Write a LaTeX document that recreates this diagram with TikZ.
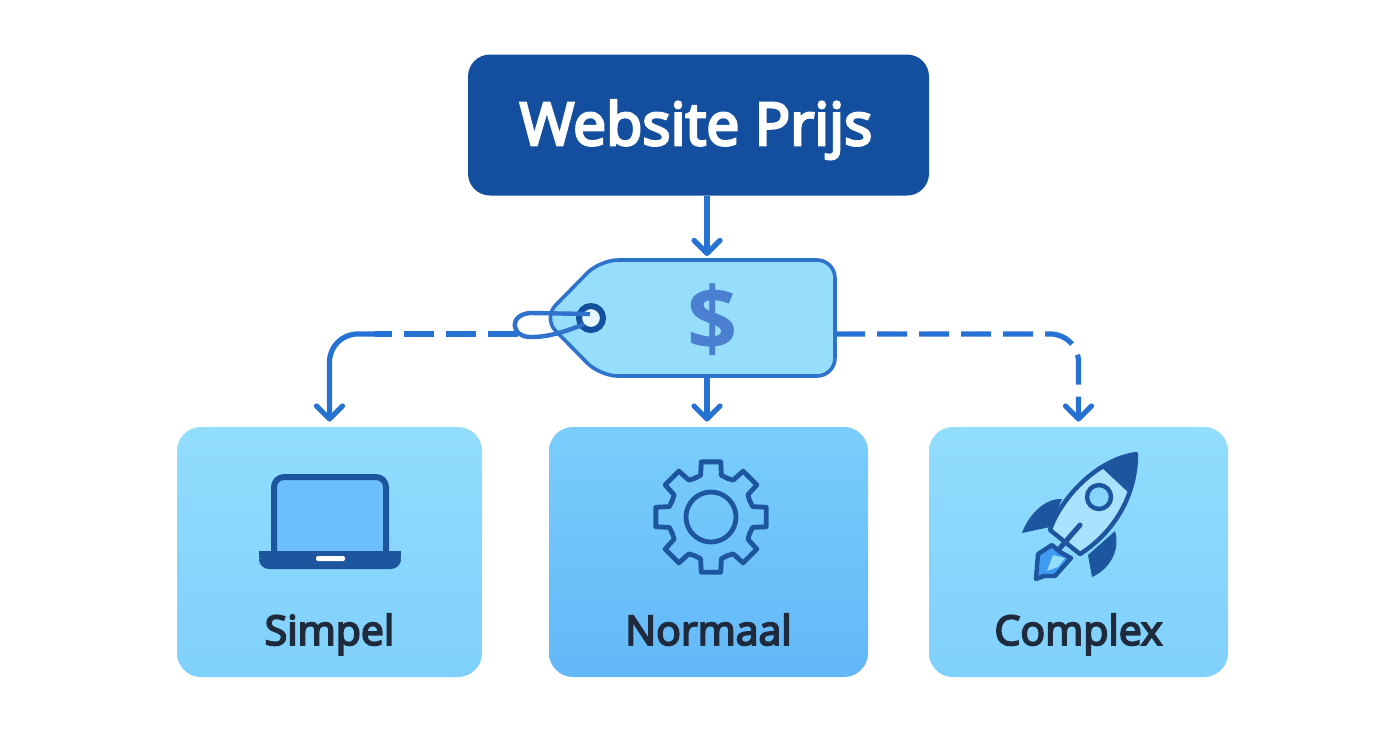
\documentclass[tikz,border=0pt]{standalone}
\usepackage{xcolor}
\usepackage{fontspec}
\setmainfont{Open Sans}
\newfontfamily\semifont{Open Sans}[FakeBold=4.5]
\usetikzlibrary{arrows.meta}

\definecolor{titleblue}{HTML}{134F9E}
\definecolor{linkblue}{HTML}{2672D2}
\definecolor{tagfill}{HTML}{96DEFC}
\definecolor{tagline}{HTML}{2F72CC}
\definecolor{dollarblue}{HTML}{4A80CF}
\definecolor{sidetop}{HTML}{92DDFD}
\definecolor{sidebottom}{HTML}{7FD0FC}
\definecolor{midtop}{HTML}{7ACDFB}
\definecolor{midbottom}{HTML}{62B8F8}
\definecolor{iconblue}{HTML}{1D559F}
\definecolor{screenblue}{HTML}{6DBFFB}
\definecolor{labeltext}{HTML}{1F2A3C}
\definecolor{rocketbody}{HTML}{A9E2FC}
\definecolor{flameblue}{HTML}{3F9BEF}

\tikzset{
	titlebox/.style={fill=titleblue, rounded corners=11pt, minimum width=230.5pt, minimum height=70.5pt},
	titletext/.style={text=white, anchor=base, font=\semifont\fontsize{29.5}{31}\selectfont},
	sidebox/.style={top color=sidetop, bottom color=sidebottom, rounded corners=12pt, minimum height=125pt},
	midbox/.style={top color=midtop, bottom color=midbottom, rounded corners=12pt, minimum height=125pt},
	boxlabel/.style={text=labeltext, anchor=base, font=\semifont\fontsize{20.5}{22}\selectfont},
	link/.style={draw=linkblue, line width=2.6pt, -{Straight Barb[length=6.5pt,width=13pt,round]}},
	linkdash/.style={dash pattern=on 15pt off 6pt},
}

\begin{document}
\begin{tikzpicture}[x=.5pt,y=-.5pt]
			\useasboundingbox (0,0) rectangle (1392,752);

			% BOXES
			\node[titlebox] (title) at (698.5,125) {};
			\node[titletext] (titlelabel) at (696,145) {Website Prijs};
			\node[sidebox, minimum width=152.5pt] (simpel) at (329.5,552) {};
			\node[midbox, minimum width=159.5pt] (normaal) at (708.5,552) {};
			\node[sidebox, minimum width=149.5pt] (complex) at (1078.5,552) {};
			\node[boxlabel] (simpeltext) at (329.5,645) {Simpel};
			\node[boxlabel] (normaaltext) at (708.5,645) {Normaal};
			\node[boxlabel] (complextext) at (1078.5,645) {Complex};

			\coordinate (tagtop) at (707,260);
			\coordinate (tagbottom) at (707,376);
			\coordinate (tagleft) at (518,334);
			\coordinate (tagright) at (835,334);
			\coordinate (bendleft) at (375,334);

			% LINKS
			\draw [link, shorten >=2pt] (tagtop |- title.south) -- (tagtop);
			\draw [link, shorten >=2.5pt] (tagbottom) -- (tagbottom |- normaal.north);
			\draw [link, -, linkdash] (tagleft) -- (bendleft);
			\draw [link, rounded corners=14pt, shorten >=2.5pt] (bendleft) -| (simpel.north);
			\draw [link, linkdash, rounded corners=14pt, shorten >=2.5pt] (tagright) -| (complex.north);

			% PRICE TAG
			\draw [fill=tagfill, draw=tagline, line width=1.8pt, rounded corners=9pt] (835,260) -- (835,376) -- (600,376) -- (543,318) -- (600,260) -- cycle;
			\node [text=dollarblue, font=\fontsize{44}{48}\selectfont\bfseries] (dollar) at (713,320) {\$};
			\draw [draw=titleblue, fill=white!75!tagfill, line width=3pt] (591,318) circle (12);
			\draw [draw=tagline, line width=2.2pt] (590,314) -- (532,313) .. controls (508,313) and (510,338) .. (532,337) .. controls (550,337) and (570,330) .. (584,324);

			% LAPTOP
			\draw [fill=screenblue, draw=iconblue, line width=3pt, rounded corners=5pt] (274,553) -- (274,477) -- (386,477) -- (386,553);
			\draw [fill=iconblue, draw=none, rounded corners=5pt] (259,551) -- (401,551) -- (401,569) -- (259,569) -- cycle;
			\fill [iconblue] (259,551) rectangle (401,558);
			\fill [white, rounded corners=1pt] (316,556) rectangle (345,561);

			% GEAR
			\begin{scope}[shift={(711,517)}, draw=iconblue, line width=2.4pt, line cap=round, line join=round]
				\foreach \a in {0,45,...,315} {
					\draw ({\a-22.5}:42) -- ({\a-14}:43) -- ({\a-10}:56) -- ({\a+10}:56) -- ({\a+14}:43) -- ({\a+22.5}:42);
				}
				\draw (0,0) circle (25);
			\end{scope}

			% ROCKET
			\fill [iconblue] (1062,499) .. controls (1044,498) and (1028,516) .. (1022,533) -- (1050,527) -- cycle;
			\fill [iconblue] (1115,531) .. controls (1121,552) and (1108,570) .. (1092,577) -- (1088,555) -- cycle;
			\draw [fill=rocketbody, draw=iconblue, line width=2.2pt, line join=round] (1136,454) .. controls (1095,460) and (1060,500) .. (1050,530) -- (1080,554) .. controls (1110,535) and (1136,500) .. (1136,454) -- cycle;
			\fill [iconblue] (1136,454) .. controls (1122,456) and (1110,460) .. (1100,466) -- (1128,492) .. controls (1134,480) and (1136,468) .. (1136,454) -- cycle;
			\draw [draw=iconblue, fill=sidetop!70!screenblue, line width=2.2pt] (1099,497) circle (12);
			\draw [fill=flameblue, draw=iconblue, line width=2.2pt, line join=round] (1052,545) -- (1038,554) -- (1036,579) -- (1044,576) -- (1055,576) -- (1071,558) -- (1060,552) -- cycle;
			\fill [sidetop] (1053,555) -- (1047,571) -- (1058,567) -- (1065,558) -- cycle;
			\draw [draw=iconblue, line width=2.5pt, line cap=round] (1080,525) -- (1060,548);
		\end{tikzpicture}
\end{document}
